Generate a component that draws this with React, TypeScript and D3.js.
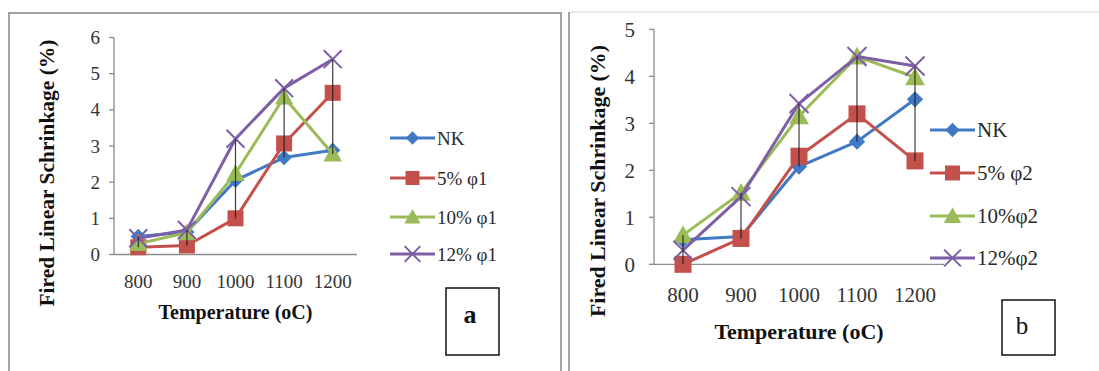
import React from "react";
import * as d3 from "d3";

const categories = ["800", "900", "1000", "1100", "1200"];

const seriesNamesA = ["NK", "5% φ1", "10% φ1", "12% φ1"];
const nkA = [0.5, 0.62, 2.05, 2.68, 2.88];
const p5A = [0.2, 0.25, 1.0, 3.07, 4.47];
const p10A = [0.3, 0.6, 2.24, 4.35, 2.78];
const p12A = [0.45, 0.68, 3.2, 4.6, 5.4];
const yTicksA = [0, 1, 2, 3, 4, 5, 6];

const seriesNamesB = ["NK", "5% φ2", "10%φ2", "12%φ2"];
const nkB = [0.52, 0.59, 2.08, 2.61, 3.51];
const p5B = [0.0, 0.55, 2.3, 3.2, 2.2];
const p10B = [0.62, 1.52, 3.15, 4.42, 3.98];
const p12B = [0.3, 1.44, 3.42, 4.42, 4.22];
const yTicksB = [0, 1, 2, 3, 4, 5];

const colors = ["#4179c4", "#c4504c", "#9bbb59", "#7e5fa6"];
const markers = ["diamond", "square", "triangle", "x"];

const FONT = "'Liberation Serif', 'Times New Roman', serif";

function Marker({ type, x, y, color, s }: { type: string; x: number; y: number; color: string; s: number }) {
  if (type === "diamond") {
    const r = s * 0.48;
    return <path d={`M${x},${y - r}L${x + r},${y}L${x},${y + r}L${x - r},${y}Z`} fill={color} />;
  }
  if (type === "square") {
    const r = s * 0.5;
    return <rect x={x - r} y={y - r} width={2 * r} height={2 * r} fill={color} />;
  }
  if (type === "triangle") {
    const r = s * 0.58;
    return <path d={`M${x},${y - r}L${x + r},${y + r * 0.8}L${x - r},${y + r * 0.8}Z`} fill={color} />;
  }
  const r = s * 0.56;
  return (
    <path
      d={`M${x - r},${y - r}L${x + r},${y + r}M${x - r},${y + r}L${x + r},${y - r}`}
      stroke={color}
      strokeWidth={2}
      fill="none"
    />
  );
}

type PanelProps = {
  x0: number;
  x1: number;
  yBottom: number;
  yTop: number;
  yMax: number;
  yTicks: number[];
  data: number[][];
  names: string[];
  tickFont: number;
  tickLabelRight: number;
  xLabelY: number;
  xTitleY: number;
  xTitleFont: number;
  yTitleX: number;
  yTitleY: number;
  yTitleLen: number;
  legendLineX: number;
  legendYs: number[];
  legendFont: number;
  markerSize: number;
};

function Panel(p: PanelProps) {
  const xs = d3.scaleBand<string>().domain(categories).range([p.x0, p.x1]).padding(0);
  const ys = d3.scaleLinear().domain([0, p.yMax]).range([p.yBottom, p.yTop]);
  const cx = (c: string) => (xs(c) as number) + xs.bandwidth() / 2;
  const line = d3
    .line<number>()
    .x((_, i) => cx(categories[i]))
    .y((d) => ys(d));
  const axisColor = "#8c8c8c";
  return (
    <g>
      <line x1={p.x0} x2={p.x0} y1={ys(0)} y2={ys(p.yMax)} stroke={axisColor} strokeWidth={1.3} />
      {p.yTicks.map((t) => (
        <g key={t}>
          <line x1={p.x0 - 5} x2={p.x0} y1={ys(t)} y2={ys(t)} stroke={axisColor} strokeWidth={1.3} />
          <text
            x={p.tickLabelRight}
            y={ys(t)}
            dy="0.35em"
            textAnchor="end"
            fontSize={p.tickFont}
            fontFamily={FONT}
            fill="#333"
          >
            {t}
          </text>
        </g>
      ))}
      <line x1={p.x0} x2={p.x1} y1={ys(0)} y2={ys(0)} stroke={axisColor} strokeWidth={1.3} />
      {categories.map((c) => (
        <text
          key={c}
          x={cx(c)}
          y={p.xLabelY}
          textAnchor="middle"
          fontSize={p.tickFont}
          fontFamily={FONT}
          fill="#333"
        >
          {c}
        </text>
      ))}
      <text
        x={(p.x0 + p.x1) / 2}
        y={p.xTitleY}
        textAnchor="middle"
        fontSize={p.xTitleFont}
        fontWeight="bold"
        fontFamily={FONT}
        fill="#111"
      >
        Temperature (oC)
      </text>
      <text
        transform={`translate(${p.yTitleX},${p.yTitleY}) rotate(-90)`}
        textAnchor="middle"
        fontSize={21}
        fontWeight="bold"
        fontFamily={FONT}
        fill="#111"
        textLength={p.yTitleLen}
        lengthAdjust="spacingAndGlyphs"
      >
        Fired Linear Schrinkage (%)
      </text>
      {p.data.map((vals, si) => (
        <g key={si}>
          <path d={line(vals) || ""} fill="none" stroke={colors[si]} strokeWidth={3} strokeLinejoin="round" />
          {vals.map((v, i) => (
            <Marker key={i} type={markers[si]} x={cx(categories[i])} y={ys(v)} color={colors[si]} s={p.markerSize} />
          ))}
        </g>
      ))}
      {categories.map((c, i) => {
        const vs = p.data.map((d) => d[i]);
        return (
          <line
            key={c}
            x1={cx(c)}
            x2={cx(c)}
            y1={ys(d3.max(vs) as number)}
            y2={ys(d3.min(vs) as number)}
            stroke="#1a1a1a"
            strokeWidth={1.2}
            opacity={0.85}
          />
        );
      })}
      {p.names.map((n, si) => (
        <g key={n}>
          <line
            x1={p.legendLineX}
            x2={p.legendLineX + 45}
            y1={p.legendYs[si]}
            y2={p.legendYs[si]}
            stroke={colors[si]}
            strokeWidth={3}
          />
          <Marker type={markers[si]} x={p.legendLineX + 22.5} y={p.legendYs[si]} color={colors[si]} s={p.markerSize - 2} />
          <text
            x={p.legendLineX + 47}
            y={p.legendYs[si]}
            dy="0.35em"
            fontSize={p.legendFont}
            fontFamily={FONT}
            fill="#2a2a2a"
          >
            {n}
          </text>
        </g>
      ))}
    </g>
  );
}

export default function App() {
  return (
    <svg width={1099} height={371} style={{ position: "absolute", left: 0, top: 0, background: "#fff" }}>
      <rect x={0} y={0} width={1099} height={371} fill="#fff" />
      <rect x={9} y={13} width={552} height={400} fill="none" stroke="#a3a3a3" strokeWidth={2} />
      <line x1={569} x2={569} y1={12} y2={371} stroke="#a3a3a3" strokeWidth={2} />
      <line x1={570} x2={1099} y1={12} y2={12} stroke="#e2e2e2" strokeWidth={1.5} />
      <Panel
        x0={114}
        x1={357}
        yBottom={254.5}
        yTop={37.5}
        yMax={6}
        yTicks={yTicksA}
        data={[nkA, p5A, p10A, p12A]}
        names={seriesNamesA}
        tickFont={19}
        tickLabelRight={100}
        xLabelY={288}
        xTitleY={319}
        xTitleFont={20}
        yTitleX={54}
        yTitleY={173}
        yTitleLen={267}
        legendLineX={390}
        legendYs={[138, 178, 217, 254]}
        legendFont={19}
        markerSize={16}
      />
      <Panel
        x0={654}
        x1={944}
        yBottom={264.3}
        yTop={29.3}
        yMax={5}
        yTicks={yTicksB}
        data={[nkB, p5B, p10B, p12B]}
        names={seriesNamesB}
        tickFont={21}
        tickLabelRight={635}
        xLabelY={302}
        xTitleY={339}
        xTitleFont={22}
        yTitleX={605}
        yTitleY={181}
        yTitleLen={272}
        legendLineX={930}
        legendYs={[130, 173, 216, 258]}
        legendFont={21}
        markerSize={17}
      />
      <rect x={446} y={288} width={53} height={67} fill="none" stroke="#111" strokeWidth={1.5} />
      <text x={470} y={323} textAnchor="middle" fontSize={26} fontWeight="bold" fontFamily={FONT} fill="#111">
        a
      </text>
      <rect x={1002} y={300} width={53} height={55} fill="none" stroke="#111" strokeWidth={1.5} />
      <text x={1022} y={334} textAnchor="middle" fontSize={25} fontFamily={FONT} fill="#111">
        b
      </text>
    </svg>
  );
}
